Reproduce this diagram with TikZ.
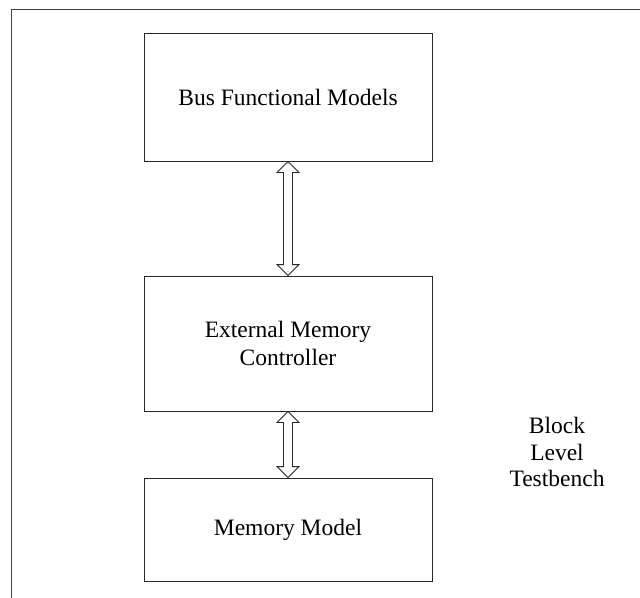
\documentclass[tikz,border=0pt]{standalone}
\usepackage{fontspec}
\setmainfont{Liberation Serif}
\usetikzlibrary{calc}
\begin{document}
\begin{tikzpicture}[x=1bp,y=-1bp,
  blockbox/.style={draw=black!85, line width=0.9bp, minimum width=288bp, align=center, inner sep=0pt,
    font=\fontsize{23.5bp}{27.5bp}\selectfont},
  fatarrow/.style={draw=black!85, line width=0.9bp, fill=white, line join=miter},
  frameline/.style={draw=black!75, line width=0.9bp}]
\useasboundingbox (0,0) rectangle (640,598);
\coordinate (ftr) at (640,9);
\coordinate (ftl) at (11,9);
\coordinate (fbl) at (11,598);
\draw[frameline] (ftr) -- (ftl) -- (fbl);

\node[blockbox, minimum height=128bp] (bfm) at (288,97) {Bus Functional Models};
\node[blockbox, minimum height=135bp] (emc) at (288,343.5) {External Memory\\Controller};
\node[blockbox, minimum height=103bp] (mm) at (288,529.5) {Memory Model};
\node[align=center, font=\fontsize{23.5bp}{26.5bp}\selectfont] (tb) at (557,452) {Block\\Level\\Testbench};

% double arrow between bfm and emc
\draw[fatarrow] (bfm.south)
  -- ($(bfm.south)+(11,11)$) -- ($(bfm.south)+(4.5,11)$)
  -- ($(emc.north)+(4.5,-11)$) -- ($(emc.north)+(11,-11)$)
  -- (emc.north)
  -- ($(emc.north)+(-11,-11)$) -- ($(emc.north)+(-4.5,-11)$)
  -- ($(bfm.south)+(-4.5,11)$) -- ($(bfm.south)+(-11,11)$) -- cycle;
% double arrow between emc and mm
\draw[fatarrow] (emc.south)
  -- ($(emc.south)+(11,11)$) -- ($(emc.south)+(4.5,11)$)
  -- ($(mm.north)+(4.5,-11)$) -- ($(mm.north)+(11,-11)$)
  -- (mm.north)
  -- ($(mm.north)+(-11,-11)$) -- ($(mm.north)+(-4.5,-11)$)
  -- ($(emc.south)+(-4.5,11)$) -- ($(emc.south)+(-11,11)$) -- cycle;
\end{tikzpicture}
\end{document}
